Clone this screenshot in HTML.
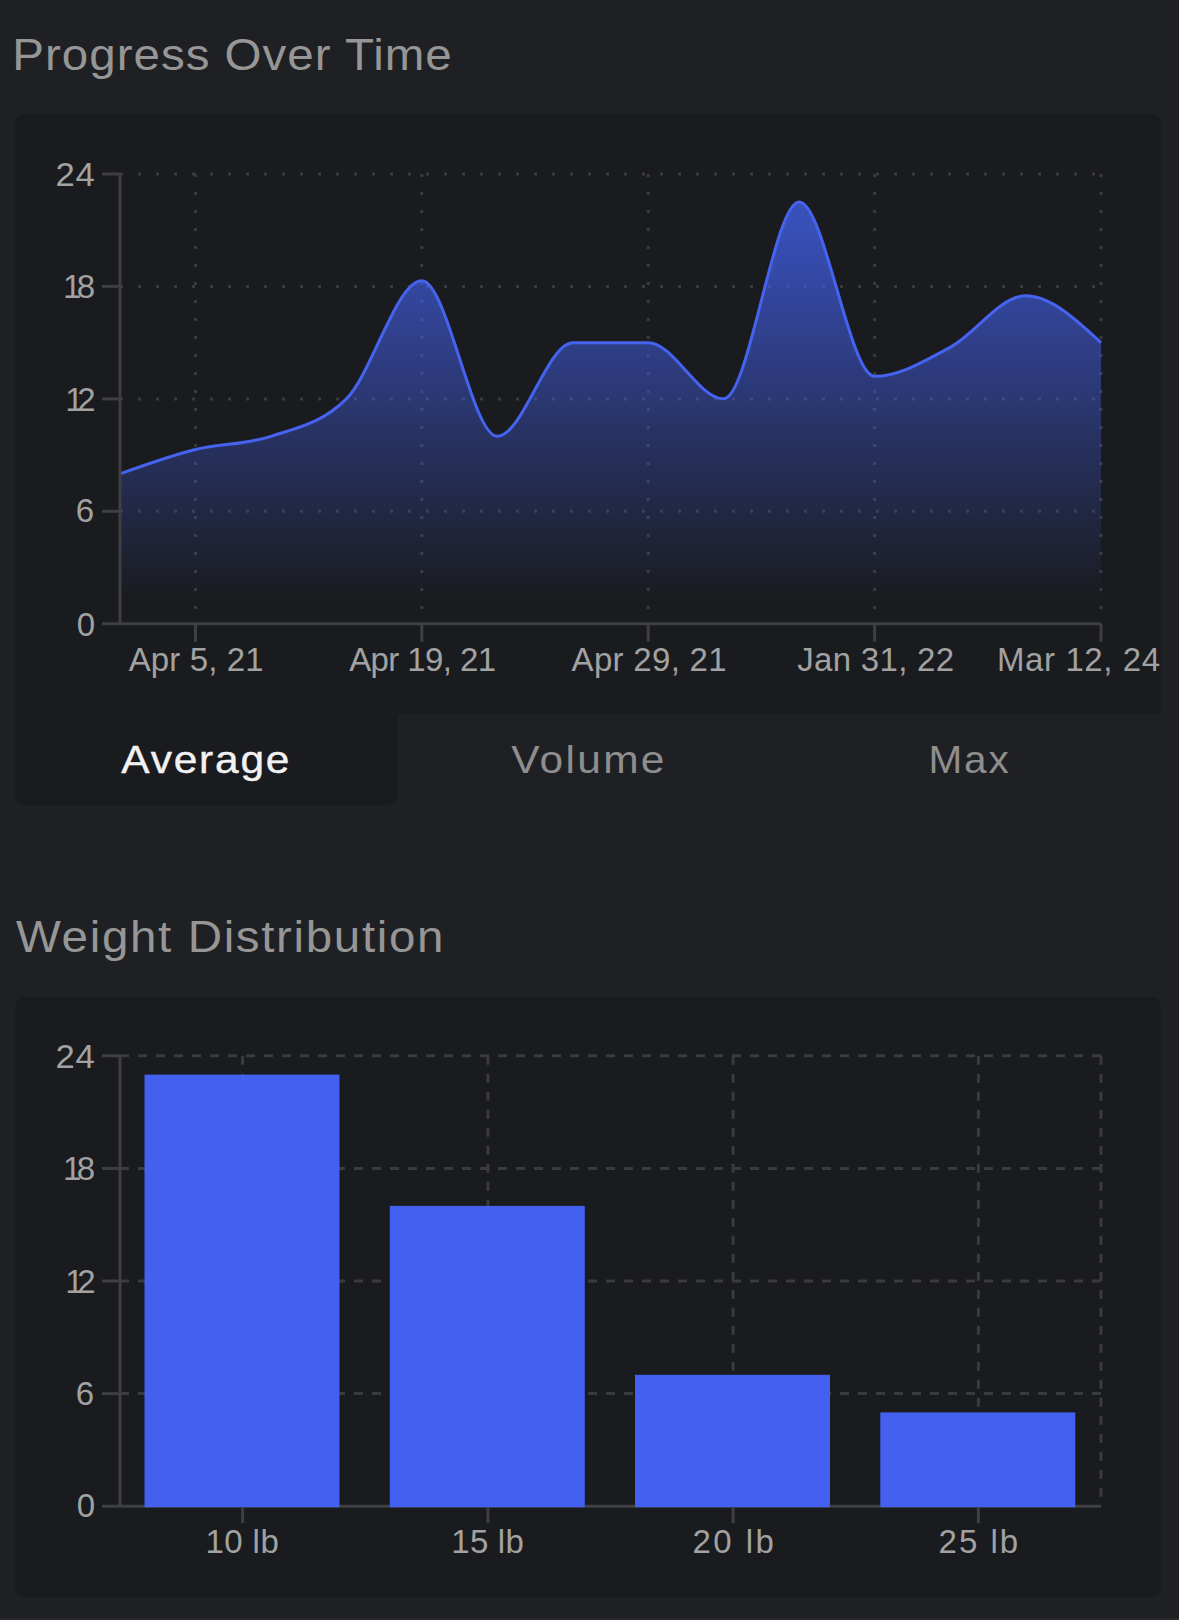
<!DOCTYPE html>
<html><head><meta charset="utf-8">
<style>
html,body{margin:0;padding:0;}
body{width:1179px;height:1620px;background:#1f2023;overflow:hidden;}
svg{display:block;font-family:"Liberation Sans",sans-serif;}
</style></head><body>
<svg width="1179" height="1620" viewBox="0 0 1179 1620">
<defs><linearGradient id="g1" x1="0" y1="0" x2="0" y2="1"><stop offset="5%" stop-color="#4361ee" stop-opacity="0.75"/><stop offset="95%" stop-color="#4361ee" stop-opacity="0"/></linearGradient></defs>
<path d="M15,123 a9,9 0 0 1 9,-9 H1152 a9,9 0 0 1 9,9 V714 H397 V796 a9,9 0 0 1 -9,9 H24 a9,9 0 0 1 -9,-9 Z" fill="#1a1b1e"/>
<rect x="15" y="997" width="1146" height="600" rx="9" fill="#1a1b1e"/>
<line x1="120" y1="174.0" x2="1101" y2="174.0" stroke="#3a3b3f" stroke-width="3" stroke-dasharray="3 15"/>
<line x1="120" y1="286.4" x2="1101" y2="286.4" stroke="#3a3b3f" stroke-width="3" stroke-dasharray="3 15"/>
<line x1="120" y1="398.9" x2="1101" y2="398.9" stroke="#3a3b3f" stroke-width="3" stroke-dasharray="3 15"/>
<line x1="120" y1="511.3" x2="1101" y2="511.3" stroke="#3a3b3f" stroke-width="3" stroke-dasharray="3 15"/>
<line x1="195.5" y1="174" x2="195.5" y2="623" stroke="#3a3b3f" stroke-width="3" stroke-dasharray="3 15"/>
<line x1="421.8" y1="174" x2="421.8" y2="623" stroke="#3a3b3f" stroke-width="3" stroke-dasharray="3 15"/>
<line x1="648.2" y1="174" x2="648.2" y2="623" stroke="#3a3b3f" stroke-width="3" stroke-dasharray="3 15"/>
<line x1="874.6" y1="174" x2="874.6" y2="623" stroke="#3a3b3f" stroke-width="3" stroke-dasharray="3 15"/>
<line x1="1101.0" y1="174" x2="1101.0" y2="623" stroke="#3a3b3f" stroke-width="3" stroke-dasharray="3 15"/>
<path d="M120.00,473.80 C145.15,464.74 170.31,455.69 195.46,449.44 C220.62,443.20 245.77,444.76 270.92,436.33 C296.08,427.89 321.23,423.83 346.38,398.85 C371.54,373.87 396.69,280.80 421.85,280.80 C447.00,280.80 472.15,436.33 497.31,436.33 C522.46,436.33 547.62,342.64 572.77,342.64 C597.92,342.64 623.08,342.64 648.23,342.64 C673.38,342.64 698.54,398.85 723.69,398.85 C748.85,398.85 774.00,202.11 799.15,202.11 C824.31,202.11 849.46,376.37 874.62,376.37 C899.77,376.37 924.92,360.75 950.08,347.32 C975.23,333.89 1000.38,295.79 1025.54,295.79 C1050.69,295.79 1075.85,319.22 1101.00,342.64 L1101.00,623.70 L120.00,623.70 Z" fill="url(#g1)"/>
<path d="M120.00,473.80 C145.15,464.74 170.31,455.69 195.46,449.44 C220.62,443.20 245.77,444.76 270.92,436.33 C296.08,427.89 321.23,423.83 346.38,398.85 C371.54,373.87 396.69,280.80 421.85,280.80 C447.00,280.80 472.15,436.33 497.31,436.33 C522.46,436.33 547.62,342.64 572.77,342.64 C597.92,342.64 623.08,342.64 648.23,342.64 C673.38,342.64 698.54,398.85 723.69,398.85 C748.85,398.85 774.00,202.11 799.15,202.11 C824.31,202.11 849.46,376.37 874.62,376.37 C899.77,376.37 924.92,360.75 950.08,347.32 C975.23,333.89 1000.38,295.79 1025.54,295.79 C1050.69,295.79 1075.85,319.22 1101.00,342.64" fill="none" stroke="#4663ef" stroke-width="3"/>
<line x1="120" y1="174" x2="120" y2="623.7" stroke="#3e3f43" stroke-width="3"/>
<line x1="102" y1="623.7" x2="1101" y2="623.7" stroke="#3e3f43" stroke-width="3"/>
<line x1="102" y1="511.3" x2="120" y2="511.3" stroke="#3e3f43" stroke-width="3"/>
<line x1="102" y1="398.9" x2="120" y2="398.9" stroke="#3e3f43" stroke-width="3"/>
<line x1="102" y1="286.4" x2="120" y2="286.4" stroke="#3e3f43" stroke-width="3"/>
<line x1="102" y1="174.0" x2="120" y2="174.0" stroke="#3e3f43" stroke-width="3"/>
<line x1="195.5" y1="623.7" x2="195.5" y2="641.7" stroke="#3e3f43" stroke-width="3"/>
<line x1="421.8" y1="623.7" x2="421.8" y2="641.7" stroke="#3e3f43" stroke-width="3"/>
<line x1="648.2" y1="623.7" x2="648.2" y2="641.7" stroke="#3e3f43" stroke-width="3"/>
<line x1="874.6" y1="623.7" x2="874.6" y2="641.7" stroke="#3e3f43" stroke-width="3"/>
<line x1="1101.0" y1="623.7" x2="1101.0" y2="641.7" stroke="#3e3f43" stroke-width="3"/>
<line x1="120" y1="1055.8" x2="1101" y2="1055.8" stroke="#3a3b3f" stroke-width="3" stroke-dasharray="9 9"/>
<line x1="120" y1="1168.4" x2="1101" y2="1168.4" stroke="#3a3b3f" stroke-width="3" stroke-dasharray="9 9"/>
<line x1="120" y1="1281.0" x2="1101" y2="1281.0" stroke="#3a3b3f" stroke-width="3" stroke-dasharray="9 9"/>
<line x1="120" y1="1393.6" x2="1101" y2="1393.6" stroke="#3a3b3f" stroke-width="3" stroke-dasharray="9 9"/>
<line x1="242.6" y1="1055.8" x2="242.6" y2="1506.2" stroke="#3a3b3f" stroke-width="3" stroke-dasharray="9 9"/>
<line x1="487.9" y1="1055.8" x2="487.9" y2="1506.2" stroke="#3a3b3f" stroke-width="3" stroke-dasharray="9 9"/>
<line x1="733.1" y1="1055.8" x2="733.1" y2="1506.2" stroke="#3a3b3f" stroke-width="3" stroke-dasharray="9 9"/>
<line x1="978.4" y1="1055.8" x2="978.4" y2="1506.2" stroke="#3a3b3f" stroke-width="3" stroke-dasharray="9 9"/>
<line x1="1101" y1="1055.8" x2="1101" y2="1506.2" stroke="#3a3b3f" stroke-width="3" stroke-dasharray="9 9"/>
<line x1="120" y1="1055.8" x2="120" y2="1506.2" stroke="#3e3f43" stroke-width="3"/>
<line x1="102" y1="1506.2" x2="1101" y2="1506.2" stroke="#3e3f43" stroke-width="3"/>
<line x1="102" y1="1393.6" x2="120" y2="1393.6" stroke="#3e3f43" stroke-width="3"/>
<line x1="102" y1="1281.0" x2="120" y2="1281.0" stroke="#3e3f43" stroke-width="3"/>
<line x1="102" y1="1168.4" x2="120" y2="1168.4" stroke="#3e3f43" stroke-width="3"/>
<line x1="102" y1="1055.8" x2="120" y2="1055.8" stroke="#3e3f43" stroke-width="3"/>
<line x1="242.6" y1="1506.2" x2="242.6" y2="1523.2" stroke="#3e3f43" stroke-width="3"/>
<line x1="487.9" y1="1506.2" x2="487.9" y2="1523.2" stroke="#3e3f43" stroke-width="3"/>
<line x1="733.1" y1="1506.2" x2="733.1" y2="1523.2" stroke="#3e3f43" stroke-width="3"/>
<line x1="978.4" y1="1506.2" x2="978.4" y2="1523.2" stroke="#3e3f43" stroke-width="3"/>
<rect x="144.5" y="1074.6" width="195" height="432.6" fill="#4361ee"/>
<rect x="389.8" y="1205.9" width="195" height="301.3" fill="#4361ee"/>
<rect x="635.0" y="1374.8" width="195" height="132.4" fill="#4361ee"/>
<rect x="880.3" y="1412.4" width="195" height="94.8" fill="#4361ee"/>
<text x="12.30" y="69.90" font-size="44.40" fill="#969696" textLength="410.65" lengthAdjust="spacing" transform="translate(12.30,0) scale(1.0700,1) translate(-12.30,0)">Progress Over Time</text>
<text x="16.00" y="951.80" font-size="44.40" fill="#969696" textLength="399.48" lengthAdjust="spacing" transform="translate(16.00,0) scale(1.0700,1) translate(-16.00,0)">Weight Distribution</text>
<text x="55.40" y="186.00" font-size="33.00" fill="#a2a2a2" textLength="37.57" lengthAdjust="spacing" transform="translate(55.40,0) scale(1.0500,1) translate(-55.40,0)">24</text>
<text x="63.00" y="297.80" font-size="33.00" fill="#a2a2a2" textLength="32.22" lengthAdjust="spacing">18</text>
<text x="65.30" y="411.20" font-size="33.00" fill="#a2a2a2" textLength="30.42" lengthAdjust="spacing">12</text>
<text x="75.80" y="522.20" font-size="33.00" fill="#a2a2a2" textLength="24.66" lengthAdjust="spacing">6</text>
<text x="76.80" y="635.90" font-size="33.00" fill="#a2a2a2" textLength="19.26" lengthAdjust="spacing">0</text>
<text x="128.70" y="671.40" font-size="33.00" fill="#a2a2a2" textLength="134.82" lengthAdjust="spacing">Apr 5, 21</text>
<text x="349.20" y="671.40" font-size="33.00" fill="#a2a2a2" textLength="146.88" lengthAdjust="spacing">Apr 19, 21</text>
<text x="571.60" y="671.40" font-size="33.00" fill="#a2a2a2" textLength="154.98" lengthAdjust="spacing">Apr 29, 21</text>
<text x="797.30" y="671.40" font-size="33.00" fill="#a2a2a2" textLength="156.83" lengthAdjust="spacing">Jan 31, 22</text>
<text x="997.00" y="671.40" font-size="33.00" fill="#a2a2a2" textLength="163.15" lengthAdjust="spacing">Mar 12, 24</text>
<text x="121.30" y="772.70" font-size="38.60" fill="#f2f2f2" textLength="152.86" lengthAdjust="spacing" transform="translate(121.30,0) scale(1.1000,1) translate(-121.30,0)" stroke="#f2f2f2" stroke-width="0.40">Average</text>
<text x="511.20" y="772.80" font-size="38.60" fill="#8e8e8e" textLength="139.34" lengthAdjust="spacing" transform="translate(511.20,0) scale(1.1000,1) translate(-511.20,0)">Volume</text>
<text x="928.50" y="772.80" font-size="38.60" fill="#8e8e8e" textLength="76.33" lengthAdjust="spacing" transform="translate(928.50,0) scale(1.0500,1) translate(-928.50,0)">Max</text>
<text x="55.40" y="1067.80" font-size="33.00" fill="#a2a2a2" textLength="37.57" lengthAdjust="spacing" transform="translate(55.40,0) scale(1.0500,1) translate(-55.40,0)">24</text>
<text x="63.00" y="1179.60" font-size="33.00" fill="#a2a2a2" textLength="32.22" lengthAdjust="spacing">18</text>
<text x="65.30" y="1293.00" font-size="33.00" fill="#a2a2a2" textLength="30.42" lengthAdjust="spacing">12</text>
<text x="75.80" y="1404.60" font-size="33.00" fill="#a2a2a2" textLength="24.66" lengthAdjust="spacing">6</text>
<text x="76.80" y="1517.40" font-size="33.00" fill="#a2a2a2" textLength="19.26" lengthAdjust="spacing">0</text>
<text x="205.40" y="1552.50" font-size="33.00" fill="#a2a2a2" textLength="73.36" lengthAdjust="spacing">10 lb</text>
<text x="451.30" y="1552.50" font-size="33.00" fill="#a2a2a2" textLength="72.46" lengthAdjust="spacing">15 lb</text>
<text x="692.50" y="1552.50" font-size="33.00" fill="#a2a2a2" textLength="81.46" lengthAdjust="spacing">20 lb</text>
<text x="938.50" y="1552.50" font-size="33.00" fill="#a2a2a2" textLength="79.66" lengthAdjust="spacing">25 lb</text>
<rect x="0" y="1618" width="1179" height="2" fill="#28292d"/>
</svg>
</body></html>
